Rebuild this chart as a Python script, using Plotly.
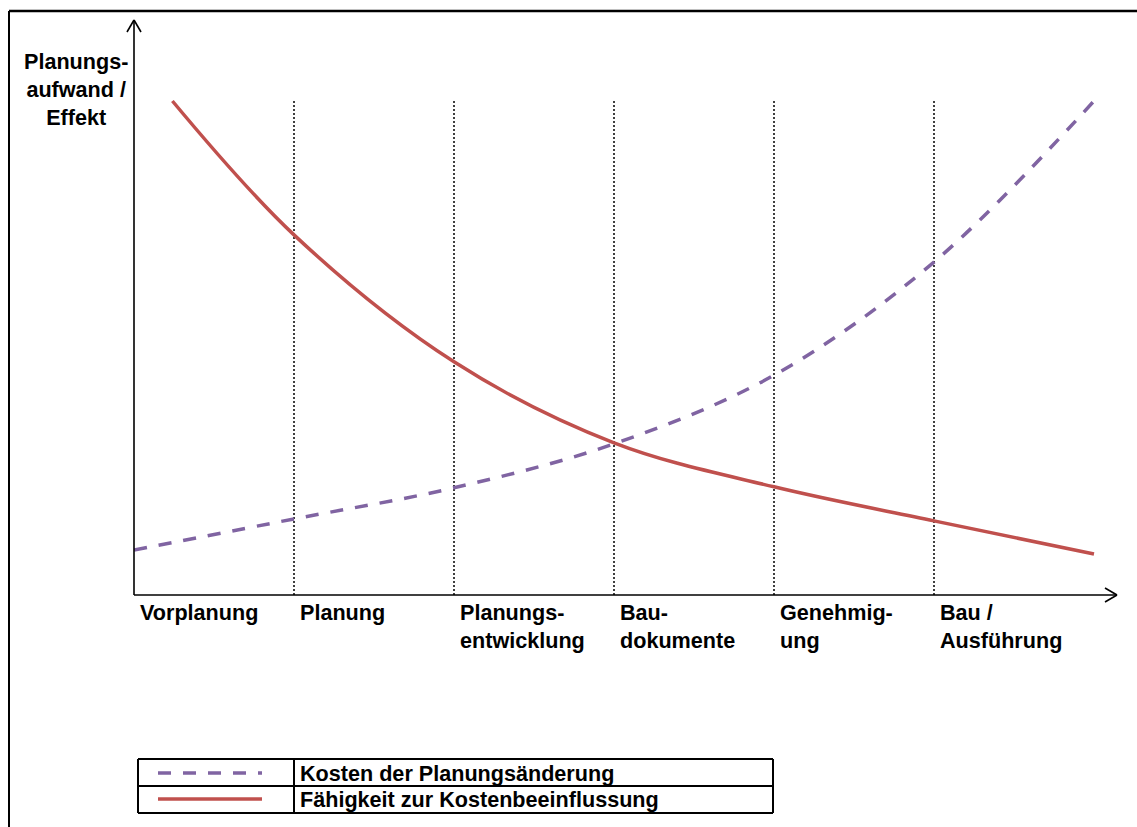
import plotly.graph_objects as go

# Phases along the horizontal axis
phase_labels = ["Vorplanung", "Planung", "Planungs-<br>entwicklung",
                "Bau-<br>dokumente", "Genehmig-<br>ung", "Bau /<br>Ausführung"]
phase_starts = [0, 1, 2, 3, 4, 5]
phase_bounds = [1, 2, 3, 4, 5]

# Kosten der Planungsänderung (rising)
cost_x = [0, 1, 2, 3, 4, 5, 6]
cost_y = [9.1, 15.4, 21.7, 30.6, 44.5, 67.4, 100]

# Fähigkeit zur Kostenbeeinflussung (falling)
infl_x = [0.24, 1, 2, 3, 4, 5, 6]
infl_y = [100, 72.9, 47.2, 30.8, 21.9, 15.0, 8.3]

series_names = ["Kosten der Planungsänderung", "Fähigkeit zur Kostenbeeinflussung"]
y_title = "Planungs-<br>aufwand /<br>Effekt"

W, H = 1137, 827
RED = "#C0504D"
PURPLE = "#8064A2"
FONT = "Liberation Sans, Arial, sans-serif"
FS = 21.6
DASH = "13px,12px"


def px(x):
    return x / W


def py(y):
    return (H - y) / H


X0, X1 = 134, 1117          # horizontal axis pixel span
Y0, Y1 = 595, 20            # vertical axis pixel span (bottom, top)
XU, YU = 160.0, 4.94         # pixels per data unit

fig = go.Figure()
fig.add_trace(go.Scatter(x=cost_x, y=cost_y, mode="lines", name=series_names[0],
                         line=dict(color=PURPLE, width=3.5, dash=DASH, shape="spline"),
                         showlegend=False, hoverinfo="skip"))
fig.add_trace(go.Scatter(x=infl_x, y=infl_y, mode="lines", name=series_names[1],
                         line=dict(color=RED, width=3.5, shape="spline"),
                         showlegend=False, hoverinfo="skip"))

shapes = []
# phase separators
for b in phase_bounds:
    shapes.append(dict(type="line", xref="x", yref="y", x0=b, x1=b, y0=0, y1=100,
                       line=dict(color="black", width=1.5, dash="2px,2px"), layer="below"))

def seg(x0, y0, x1, y1, w=1.6, color="black", dash=None):
    ln = dict(color=color, width=w)
    if dash:
        ln["dash"] = dash
    shapes.append(dict(type="line", xref="paper", yref="paper",
                       x0=px(x0), y0=py(y0), x1=px(x1), y1=py(y1), line=ln))

# axes with open arrow heads
seg(X0, Y0, X0, Y1)
seg(X0 - 7, Y1 + 12, X0, Y1)
seg(X0 + 7, Y1 + 12, X0, Y1)
seg(X0, Y0, X1, Y0)
seg(X1 - 12, Y0 - 7, X1, Y0)
seg(X1 - 12, Y0 + 7, X1, Y0)

# outer frame
seg(9, 11, 1140, 11, w=2.5)
seg(9, 11, 9, 830, w=2)

# legend table
LX0, LX1, LXD = 138, 773, 294
LT, LM, LB = 759, 786, 813
seg(LX0, LT, LX1, LT, w=2)
seg(LX0, LM, LX1, LM, w=2)
seg(LX0, LB, LX1, LB, w=2)
seg(LX0, LT, LX0, LB, w=2)
seg(LX1, LT, LX1, LB, w=2)
seg(LXD, LT, LXD, LB, w=2)
seg(158, 773, 262, 773, w=3.5, color=PURPLE, dash=DASH)
seg(158, 799, 262, 799, w=3.5, color=RED)

annotations = []
for s, lab in zip(phase_starts, phase_labels):
    annotations.append(dict(x=s, xref="x", y=py(598), yref="paper", text=f"<b>{lab}</b>",
                            xanchor="left", yanchor="top", align="left", xshift=4,
                            showarrow=False, font=dict(family=FONT, size=FS, color="black")))
annotations.append(dict(x=px(76), y=py(47), xref="paper", yref="paper",
                        text=f"<b>{y_title}</b>", xanchor="center", yanchor="top",
                        align="center", showarrow=False,
                        font=dict(family=FONT, size=FS, color="black")))
for name, yc in zip(series_names, [773, 799]):
    annotations.append(dict(x=px(298), y=py(yc), xref="paper", yref="paper",
                            text=f"<b>{name}</b>", xanchor="left", yanchor="middle",
                            showarrow=False, font=dict(family=FONT, size=FS, color="black")))

fig.update_layout(
    width=W, height=H, margin=dict(l=0, r=0, t=0, b=0),
    paper_bgcolor="white", plot_bgcolor="white",
    xaxis=dict(domain=[px(X0), px(X1)], range=[0, (X1 - X0) / XU], visible=False),
    yaxis=dict(domain=[py(Y0), py(Y1)], range=[0, (Y0 - Y1) / YU], visible=False),
    shapes=shapes, annotations=annotations, showlegend=False,
)

fig.write_html("out.html", config={"displayModeBar": False})
